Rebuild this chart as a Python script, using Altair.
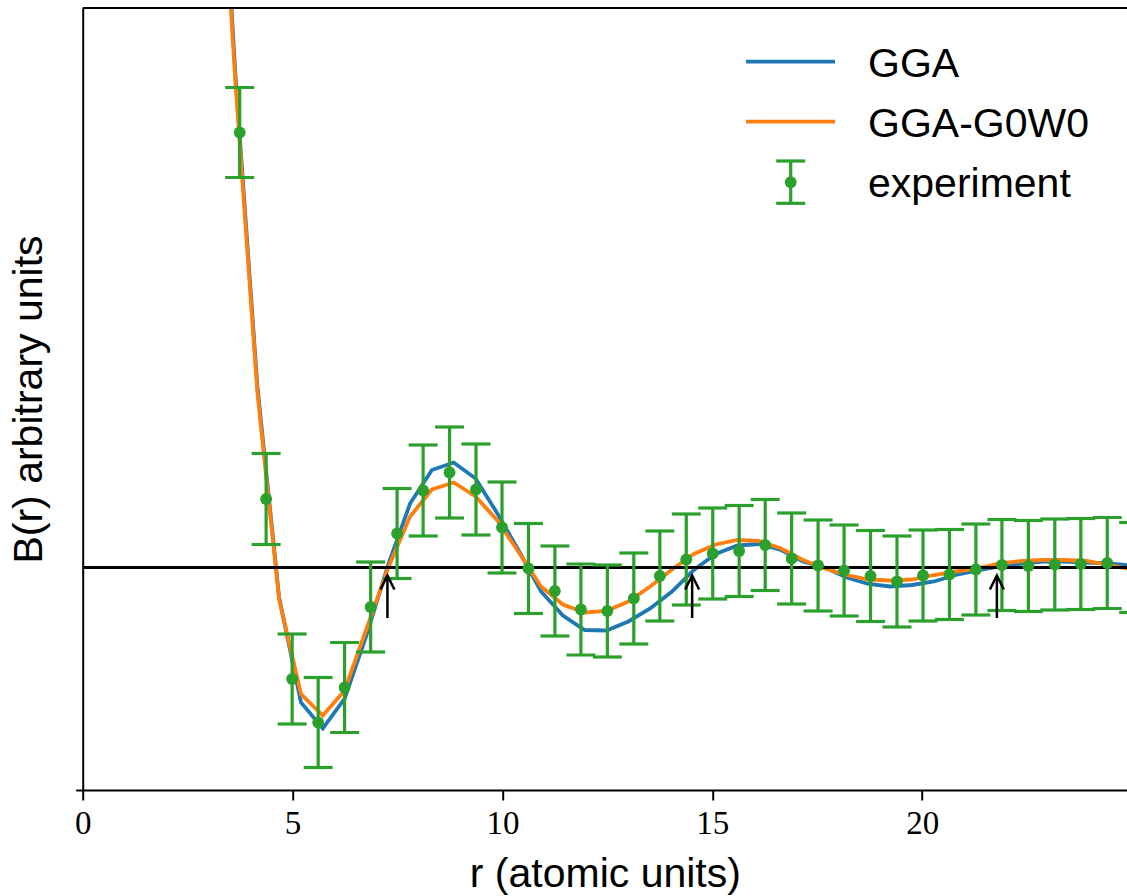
import altair as alt
import pandas as pd

# ---------------- data ----------------
curve_r = [3.12, 3.64, 4.16, 4.68, 5.20, 5.72, 6.24, 6.76, 7.28, 7.80, 8.32, 8.84,
           9.36, 9.88, 10.40, 10.92, 11.44, 11.96, 12.48, 13.00, 13.52, 14.04, 14.56,
           15.08, 15.60, 16.12, 16.64, 17.16, 17.68, 18.20, 18.72, 19.24, 19.76, 20.28,
           20.80, 21.32, 21.84, 22.36, 22.88, 23.40, 23.92, 24.44, 24.96]
gga = [8.6, 4.92, 1.82, -0.30, -1.35, -1.61, -1.31, -0.68, 0.03, 0.64, 0.975, 1.05,
       0.89, 0.54, 0.16, -0.24, -0.48, -0.625, -0.63, -0.54, -0.41, -0.24, -0.025,
       0.135, 0.22, 0.235, 0.175, 0.06, 0.0, -0.10, -0.165, -0.19, -0.175, -0.14,
       -0.075, -0.03, 0.01, 0.04, 0.06, 0.06, 0.05, 0.04, 0.02]
gga_g0w0 = [8.4, 4.84, 1.76, -0.32, -1.265, -1.48, -1.23, -0.615, 0.0, 0.51, 0.78, 0.85,
            0.71, 0.47, 0.145, -0.19, -0.37, -0.45, -0.435, -0.34, -0.19, -0.02, 0.135,
            0.23, 0.275, 0.265, 0.19, 0.075, -0.01, -0.075, -0.12, -0.13, -0.12, -0.075,
            -0.04, -0.01, 0.04, 0.065, 0.075, 0.075, 0.065, 0.025, -0.015]

exp_r = [3.74, 4.37, 4.99, 5.61, 6.24, 6.86, 7.49, 8.11, 8.74, 9.37, 9.99, 10.62,
         11.25, 11.87, 12.50, 13.13, 13.75, 14.38, 15.01, 15.64, 16.26, 16.89, 17.52,
         18.14, 18.77, 19.40, 20.02, 20.65, 21.28, 21.90, 22.53, 23.16, 23.78, 24.41, 25.04]
exp_b = [4.35, 0.685, -1.115, -1.55, -1.20, -0.395, 0.34, 0.77, 0.95, 0.78, 0.40, -0.01,
         -0.235, -0.42, -0.435, -0.31, -0.085, 0.08, 0.14, 0.165, 0.225, 0.09, 0.02,
         -0.03, -0.085, -0.14, -0.08, -0.07, -0.02, 0.025, 0.015, 0.03, 0.035, 0.045, 0.0]
exp_err = [0.45, 0.455, 0.45, 0.45, 0.45, 0.45, 0.45, 0.455, 0.455, 0.455, 0.455, 0.45,
           0.45, 0.455, 0.46, 0.455, 0.45, 0.455, 0.455, 0.455, 0.455, 0.455, 0.455,
           0.455, 0.455, 0.455, 0.455, 0.45, 0.455, 0.455, 0.455, 0.455, 0.455, 0.455, 0.45]

zero_level = [0.0]
arrow_r = [7.26, 14.52, 21.78]
arrow_tip = [-0.08, -0.08, -0.08]
arrow_tail = [-0.505, -0.505, -0.505]

x_ticks = [0, 5, 10, 15, 20]
x_domain = [0, 24.88]
y_domain = [-2.225, 5.595]

BLUE, ORANGE, GREEN = "#1f77b4", "#ff7f0e", "#2ca02c"
SANS = "Liberation Sans"
SERIF = "Liberation Serif"

# ---------------- tables ----------------
gga_df = pd.DataFrame({"r": curve_r, "B": gga})
g0w0_df = pd.DataFrame({"r": curve_r, "B": gga_g0w0})
exp_df = pd.DataFrame({"r": exp_r, "B": exp_b, "err": exp_err})
exp_df["lo"] = exp_df["B"] - exp_df["err"]
exp_df["hi"] = exp_df["B"] + exp_df["err"]
zero_df = pd.DataFrame({"B": zero_level})
arrow_df = pd.DataFrame({"r": arrow_r, "tip": arrow_tip, "tail": arrow_tail})
one = pd.DataFrame({"k": [0]})

W, H = 1044.3, 782
LW = 3.8      # curve width
EW = 3.2      # error bar width
DOT = 140     # marker area

xs = alt.Scale(domain=x_domain, nice=False, zero=False)
ys = alt.Scale(domain=y_domain, nice=False, zero=False)

x_axis = alt.Axis(values=x_ticks, title="r (atomic units)", labelFlush=False,
                  labelFont=SERIF, labelFontSize=33, labelPadding=7, tickSize=10,
                  titleFont=SANS, titleFontSize=41, titleFontWeight="normal",
                  titleBaseline="alphabetic", titleY=96)
y_axis = alt.Axis(values=[y_domain[0]], labels=False, tickSize=7,
                  title="B(r) arbitrary units", titleFont=SANS, titleFontSize=41,
                  titleFontWeight="normal", titleAngle=270, titleBaseline="alphabetic",
                  titleAlign="center", titleX=-41, titleY=H / 2)


def X(field="r"):
    return alt.X(f"{field}:Q", scale=xs, axis=x_axis)


def Y(field="B"):
    return alt.Y(f"{field}:Q", scale=ys, axis=y_axis)


blue_line = alt.Chart(gga_df).mark_line(color=BLUE, strokeWidth=LW, clip=True).encode(x=X(), y=Y())
orange_line = alt.Chart(g0w0_df).mark_line(color=ORANGE, strokeWidth=LW, clip=True).encode(x=X(), y=Y())
zero_line = alt.Chart(zero_df).mark_rule(color="black", strokeWidth=3).encode(y=Y())

err_bars = alt.Chart(exp_df).mark_rule(color=GREEN, strokeWidth=EW, clip=True).encode(
    x=X(), y=Y("lo"), y2="hi:Q")
caps_lo = alt.Chart(exp_df).mark_tick(color=GREEN, orient="horizontal", size=29, thickness=EW,
                                      clip=True, opacity=1).encode(x=X(), y=Y("lo"))
caps_hi = alt.Chart(exp_df).mark_tick(color=GREEN, orient="horizontal", size=29, thickness=EW,
                                      clip=True, opacity=1).encode(x=X(), y=Y("hi"))
points = alt.Chart(exp_df).mark_circle(color=GREEN, size=DOT, opacity=1, clip=True).encode(
    x=X(), y=Y())

arrow_shaft = alt.Chart(arrow_df).mark_rule(color="black", strokeWidth=2.5).encode(
    x=X(), y=Y("tail"), y2="tip:Q")
arrow_head = alt.Chart(arrow_df).mark_point(shape="M-0.5,1L0,0L0.5,1", size=780, filled=False,
                                            color="black", strokeWidth=2.5, opacity=1).encode(
    x=X(), y=Y("tip"))

top_spine = alt.Chart(one).mark_rule(color="black", strokeWidth=2).encode(
    x=alt.value(0), x2=alt.value(W), y=alt.value(0))

# ---------------- legend ----------------
leg_line_x0, leg_line_x1 = 663.3, 752.3
leg_text_x = 785.3
leg_blue = alt.Chart(one).mark_rule(color=BLUE, strokeWidth=LW).encode(
    x=alt.value(leg_line_x0), x2=alt.value(leg_line_x1), y=alt.value(53.7))
leg_orange = alt.Chart(one).mark_rule(color=ORANGE, strokeWidth=LW).encode(
    x=alt.value(leg_line_x0), x2=alt.value(leg_line_x1), y=alt.value(113.7))
leg_err = alt.Chart(one).mark_rule(color=GREEN, strokeWidth=EW).encode(
    x=alt.value(708), y=alt.value(153), y2=alt.value(195.3))
leg_cap1 = alt.Chart(one).mark_rule(color=GREEN, strokeWidth=EW).encode(
    x=alt.value(693.5), x2=alt.value(722.5), y=alt.value(153))
leg_cap2 = alt.Chart(one).mark_rule(color=GREEN, strokeWidth=EW).encode(
    x=alt.value(693.5), x2=alt.value(722.5), y=alt.value(195.3))
leg_dot = alt.Chart(one).mark_circle(color=GREEN, size=DOT, opacity=1).encode(
    x=alt.value(708), y=alt.value(174.2))


def leg_text(label, y):
    return alt.Chart(one).mark_text(text=label, align="left", baseline="alphabetic",
                                    font=SANS, fontSize=41, color="black").encode(
        x=alt.value(leg_text_x), y=alt.value(y))


chart = alt.layer(
    blue_line, orange_line, zero_line, err_bars, caps_lo, caps_hi, points,
    arrow_shaft, arrow_head, top_spine,
    leg_blue, leg_orange, leg_err, leg_cap1, leg_cap2, leg_dot,
    leg_text("GGA", 69), leg_text("GGA-G0W0", 129.3), leg_text("experiment", 189.3),
).properties(
    width=W, height=H,
    autosize=alt.AutoSizeParams(type="none"),
    padding={"left": 82.7, "top": 8, "right": 0, "bottom": 106},
    background="white",
).configure_view(stroke=None).configure_axis(
    grid=False, domainColor="black", domainWidth=2, tickColor="black", tickWidth=2,
    labelColor="black", titleColor="black",
)

chart.save("out.html", embed_options={"renderer": "svg", "actions": False})
